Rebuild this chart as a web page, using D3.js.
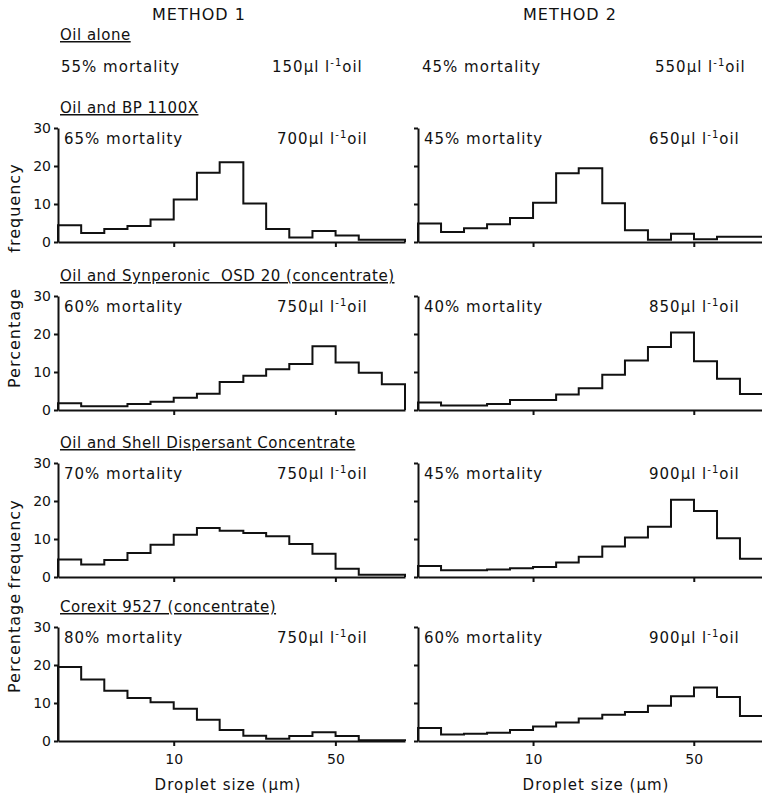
<!DOCTYPE html>
<html lang="en">
<script src="https://d3js.org/d3.v7.min.js"></script>
<style>
  body { margin: 0; background: white; }
  text { font-family: "DejaVu Sans", sans-serif; fill: #111; }
  .lab { font-size: 15px; letter-spacing: 1px; }
  .ttl { font-size: 15px; letter-spacing: 0.5px; text-decoration: underline; white-space: pre; }
  .hist { fill: none; stroke: #111; stroke-width: 2; }
  .axis path, .axis line { stroke: #111; stroke-width: 2; }
  .axis text { font-size: 14px; font-family: "DejaVu Sans", sans-serif; fill: #111; }
</style>
<body>
<svg width="762" height="798" id="fig"></svg>
<script>
// bin edges (µm), log spaced
var binEdges = [3.16, 3.98, 5.01, 6.31, 7.94, 10, 12.6, 15.8, 20.0, 25.1, 31.6, 39.8, 50.1, 63.1, 79.4, 100];
var xTicks = [10, 50];
var yTicks = [0, 10, 20, 30];

var titles = ["Oil and BP 1100X", "Oil and Synperonic  OSD 20 (concentrate)",
              "Oil and Shell Dispersant Concentrate", "Corexit 9527 (concentrate)"];
var mortality1 = ["65%", "60%", "70%", "80%"];
var mortality2 = ["45%", "40%", "45%", "60%"];
var dose1 = ["700", "750", "750", "750"];
var dose2 = ["650", "850", "900", "900"];

// percentage frequency per bin, method 1 (left) and method 2 (right)
var bp1 = [4.4, 2.4, 3.4, 4.2, 5.9, 11.2, 18.2, 21.0, 10.1, 3.4, 1.2, 2.9, 1.7, 0.6, 0.6];
var bp2 = [4.9, 2.6, 3.6, 4.7, 6.3, 10.3, 18.1, 19.4, 10.2, 3.1, 0.6, 2.2, 0.7, 1.4, 1.4];
var syn1 = [1.8, 1.0, 1.0, 1.6, 2.2, 3.2, 4.3, 7.4, 9.0, 10.7, 12.1, 16.8, 12.5, 9.8, 6.8];
var syn2 = [2.0, 1.2, 1.2, 1.6, 2.6, 2.6, 4.1, 5.7, 9.3, 13.0, 16.6, 20.4, 12.8, 8.2, 4.2];
var shell1 = [4.6, 3.3, 4.5, 6.3, 8.5, 11.1, 12.9, 12.2, 11.6, 10.7, 8.7, 6.1, 2.2, 0.6, 0.6];
var shell2 = [2.9, 1.8, 1.8, 2.0, 2.3, 2.6, 3.8, 5.3, 8.0, 10.4, 13.2, 20.3, 17.4, 10.2, 4.8];
var cor1 = [19.5, 16.2, 13.2, 11.3, 10.2, 8.5, 5.6, 2.9, 1.4, 0.6, 1.3, 2.3, 1.3, 0.2, 0.2];
var cor2 = [3.4, 1.7, 1.9, 2.2, 2.9, 3.8, 4.9, 5.9, 6.9, 7.6, 9.3, 11.8, 14.1, 11.6, 6.6];

var left = [bp1, syn1, shell1, cor1];
var right = [bp2, syn2, shell2, cor2];

var svg = d3.select("#fig");
var baseY = [242, 410, 577, 741];
var panelH = 114;
var cols = [[58, 405], [418, 763]];

function doseText(sel, x, y, num) {
  var t = sel.append("text").attr("class", "lab").attr("x", x).attr("y", y);
  t.append("tspan").text(num + "µl l");
  t.append("tspan").attr("dy", -6).style("font-size", "10px").text("-1");
  t.append("tspan").attr("dy", 6).text("oil");
}

function panel(vals, c, row) {
  var x = d3.scaleLog().domain([binEdges[0], binEdges[binEdges.length - 1]]).range(cols[c]);
  var y = d3.scaleLinear().domain([0, 30]).range([baseY[row], baseY[row] - panelH]);
  var g = svg.append("g");

  // step outline
  var pts = [[x(binEdges[0]), y(0)]];
  vals.forEach(function(v, i) {
    pts.push([x(binEdges[i]), y(v)]);
    pts.push([x(binEdges[i + 1]), y(v)]);
  });
  pts.push([x(binEdges[binEdges.length - 1]), y(0)]);
  g.append("path").attr("class", "hist").attr("d", d3.line()(pts));

  var last = row == 3;
  g.append("g").attr("class", "axis")
    .attr("transform", "translate(0," + y(0) + ")")
    .call(d3.axisBottom(x).tickValues(xTicks).tickSize(5).tickSizeOuter(0)
      .tickFormat(last ? d3.format("d") : function() { return ""; }))
    .selectAll("text").attr("dy", "1.1em");

  g.append("g").attr("class", "axis")
    .attr("transform", "translate(" + cols[c][0] + ",0)")
    .call(d3.axisLeft(y).tickValues(yTicks).tickSize(4).tickSizeOuter(0)
      .tickFormat(c == 0 ? d3.format("d") : function() { return ""; }));

  var ly = baseY[row] - 98;
  g.append("text").attr("class", "lab").attr("x", cols[c][0] + 6).attr("y", ly)
    .text((c == 0 ? mortality1 : mortality2)[row] + " mortality");
  doseText(g, c == 0 ? 277 : 649, ly, (c == 0 ? dose1 : dose2)[row]);

  if (c == 0) {
    svg.append("text").attr("class", "ttl").attr("x", 60).attr("y", baseY[row] - 129).text(titles[row]);
  }
  if (last) {
    svg.append("text").attr("class", "lab").attr("text-anchor", "middle")
      .attr("x", (c == 0 ? 228 : 596)).attr("y", 790).text("Droplet size (µm)");
  }
}

left.forEach(function(v, i) { panel(v, 0, i); });
right.forEach(function(v, i) { panel(v, 1, i); });

// headers
svg.append("text").attr("class", "lab").style("font-size", "16px").attr("text-anchor", "middle")
  .attr("x", 199).attr("y", 20).text("METHOD 1");
svg.append("text").attr("class", "lab").style("font-size", "16px").attr("text-anchor", "middle")
  .attr("x", 570).attr("y", 20).text("METHOD 2");
svg.append("text").attr("class", "ttl").attr("x", 60).attr("y", 40).text("Oil alone");
svg.append("text").attr("class", "lab").attr("x", 61).attr("y", 72).text("55% mortality");
doseText(svg, 272, 72, "150");
svg.append("text").attr("class", "lab").attr("x", 422).attr("y", 72).text("45% mortality");
doseText(svg, 655, 72, "550");

// y axis labels
var yWords = [["frequency", 208], ["Percentage", 338], ["frequency", 544], ["Percentage", 643]];
yWords.forEach(function(w) {
  svg.append("text").attr("class", "lab").style("font-size", "16px")
    .attr("text-anchor", "middle")
    .attr("transform", "translate(20," + w[1] + ") rotate(-90)")
    .text(w[0]);
});
</script>
</body>
</html>
